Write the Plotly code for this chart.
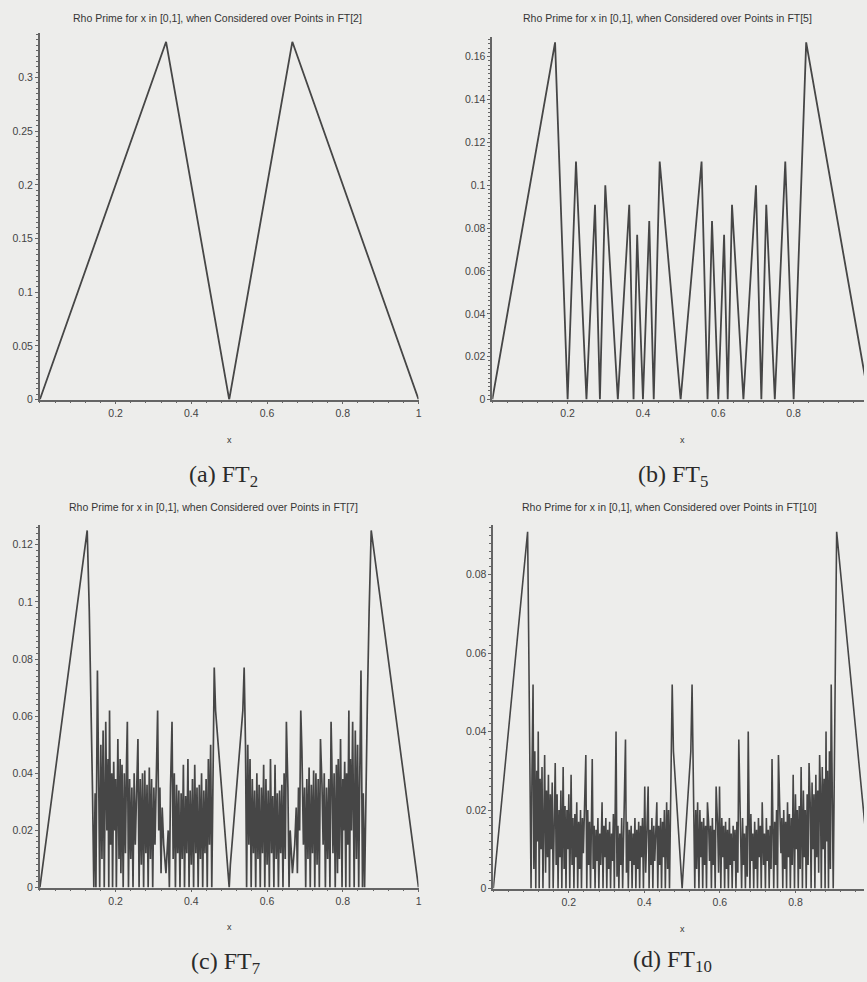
import plotly.graph_objects as go

W, H = 867, 982

# ---- FT[2] ----
a_x = [0.0, 0.3333, 0.5, 0.6667, 1.0]
a_y = [0.0, 0.3333, 0.0, 0.3333, 0.0]

# ---- FT[5] (left half, curve is symmetric about x = 1/2) ----
b_x = [0.0, 0.1667, 0.2, 0.2222, 0.25, 0.2727, 0.2857, 0.3, 0.3333, 0.3636,
       0.375, 0.3846, 0.4, 0.4167, 0.4286, 0.4444, 0.5]
b_y = [0.0, 0.1667, 0.0, 0.1111, 0.0, 0.0909, 0.0, 0.1, 0.0, 0.0909,
       0.0, 0.0769, 0.0, 0.0833, 0.0, 0.1111, 0.0]

# ---- FT[7] (left half) ----
c_x = [0.0, 0.125, 0.1305, 0.135, 0.139, 0.1425, 0.146, 0.148, 0.152, 0.156,
       0.158, 0.161, 0.164, 0.167, 0.170, 0.174, 0.177, 0.180, 0.182, 0.184,
       0.187, 0.190, 0.192, 0.195, 0.198, 0.200, 0.202, 0.206, 0.209, 0.212,
       0.214, 0.217, 0.220, 0.223, 0.226, 0.229, 0.231, 0.234, 0.237, 0.240,
       0.243, 0.246, 0.249, 0.252, 0.255, 0.259, 0.262, 0.265, 0.268, 0.271,
       0.274, 0.277, 0.280, 0.283, 0.286, 0.289, 0.292, 0.295, 0.298, 0.301,
       0.304, 0.308, 0.311, 0.314, 0.317, 0.320, 0.323, 0.327, 0.333, 0.339,
       0.342, 0.345, 0.349, 0.352, 0.355, 0.358, 0.361, 0.364, 0.367, 0.370,
       0.373, 0.376, 0.379, 0.382, 0.385, 0.388, 0.391, 0.394, 0.397, 0.400,
       0.403, 0.406, 0.409, 0.412, 0.415, 0.418, 0.421, 0.424, 0.427, 0.430,
       0.433, 0.436, 0.439, 0.442, 0.445, 0.448, 0.451, 0.454, 0.457, 0.4605,
       0.464, 0.497, 0.5]
c_y = [0.0, 0.125, 0.097, 0.066, 0.034, 0.0, 0.033, 0.0, 0.076, 0.03,
       0.0, 0.05, 0.01, 0.055, 0.0, 0.058, 0.02, 0.045, 0.0, 0.062,
       0.015, 0.04, 0.0, 0.044, 0.02, 0.038, 0.0, 0.052, 0.01, 0.045,
       0.005, 0.043, 0.0, 0.04, 0.012, 0.045, 0.058, 0.0, 0.038, 0.01,
       0.035, 0.0, 0.04, 0.015, 0.036, 0.052, 0.0, 0.038, 0.008, 0.04,
       0.0, 0.041, 0.012, 0.036, 0.0, 0.042, 0.01, 0.038, 0.0, 0.035,
       0.015, 0.048, 0.062, 0.02, 0.035, 0.005, 0.028, 0.015, 0.005, 0.02,
       0.0, 0.035, 0.058, 0.01, 0.04, 0.0, 0.036, 0.012, 0.034, 0.0,
       0.033, 0.01, 0.043, 0.0, 0.032, 0.012, 0.045, 0.0, 0.034, 0.008,
       0.038, 0.0, 0.043, 0.012, 0.035, 0.0, 0.036, 0.01, 0.04, 0.0,
       0.034, 0.012, 0.038, 0.0, 0.045, 0.015, 0.05, 0.0, 0.05, 0.077,
       0.062, 0.008, 0.0]

# ---- FT[10] (left half) ----
d_x = [0.0, 0.0909, 0.0935, 0.1, 0.1025, 0.1053, 0.1075, 0.11, 0.1125, 0.115,
       0.1175, 0.119, 0.1215, 0.124, 0.1265, 0.129, 0.1315, 0.134, 0.136, 0.1385,
       0.141, 0.1435, 0.146, 0.1485, 0.151, 0.1535, 0.156, 0.1585, 0.161, 0.164,
       0.1665, 0.169, 0.1715, 0.174, 0.1765, 0.179, 0.1815, 0.185, 0.1875, 0.19,
       0.1925, 0.195, 0.1975, 0.2, 0.2025, 0.206, 0.2085, 0.211, 0.2135, 0.216,
       0.2185, 0.221, 0.2235, 0.226, 0.2285, 0.231, 0.2335, 0.236, 0.2385, 0.241,
       0.245, 0.2475, 0.25, 0.2525, 0.255, 0.2575, 0.262, 0.2645, 0.267, 0.2695,
       0.272, 0.2745, 0.277, 0.2795, 0.282, 0.2845, 0.288, 0.2905, 0.293, 0.2955,
       0.298, 0.3005, 0.303, 0.3055, 0.308, 0.3105, 0.313, 0.3155, 0.318, 0.3205,
       0.325, 0.3275, 0.33, 0.3325, 0.335, 0.3375, 0.34, 0.3425, 0.345, 0.35,
       0.3525, 0.355, 0.3575, 0.36, 0.3625, 0.365, 0.3675, 0.37, 0.3725, 0.375,
       0.3775, 0.38, 0.3825, 0.385, 0.3875, 0.39, 0.3925, 0.395, 0.3975, 0.401,
       0.4035, 0.406, 0.41, 0.4125, 0.415, 0.4175, 0.42, 0.4225, 0.425, 0.4275,
       0.43, 0.433, 0.4355, 0.438, 0.4405, 0.443, 0.4455, 0.448, 0.4505, 0.453,
       0.4555, 0.459, 0.4615, 0.464, 0.4665, 0.469, 0.4725, 0.4737, 0.477, 0.497,
       0.5]
d_y = [0.0, 0.0909, 0.066, 0.0, 0.03, 0.052, 0.005, 0.035, 0.0, 0.03,
       0.012, 0.04, 0.0, 0.028, 0.01, 0.031, 0.0, 0.026, 0.034, 0.004,
       0.025, 0.008, 0.029, 0.0, 0.024, 0.01, 0.027, 0.0, 0.022, 0.032,
       0.006, 0.024, 0.0, 0.02, 0.008, 0.025, 0.0, 0.031, 0.005, 0.021,
       0.0, 0.02, 0.01, 0.024, 0.0, 0.029, 0.006, 0.018, 0.0, 0.019,
       0.008, 0.022, 0.0, 0.017, 0.005, 0.02, 0.0, 0.018, 0.009, 0.021,
       0.034, 0.0, 0.02, 0.006, 0.017, 0.0, 0.033, 0.005, 0.016, 0.0,
       0.015, 0.007, 0.018, 0.0, 0.014, 0.006, 0.022, 0.0, 0.016, 0.008,
       0.018, 0.0, 0.015, 0.005, 0.017, 0.0, 0.014, 0.007, 0.019, 0.0,
       0.04, 0.003, 0.016, 0.0, 0.014, 0.006, 0.018, 0.0, 0.015, 0.038,
       0.004, 0.017, 0.0, 0.015, 0.007, 0.016, 0.0, 0.014, 0.006, 0.018,
       0.0, 0.015, 0.005, 0.017, 0.0, 0.016, 0.008, 0.018, 0.0, 0.026,
       0.004, 0.016, 0.026, 0.0, 0.015, 0.006, 0.018, 0.0, 0.016, 0.007,
       0.017, 0.022, 0.0, 0.016, 0.006, 0.018, 0.0, 0.017, 0.008, 0.02,
       0.0, 0.022, 0.005, 0.02, 0.0, 0.024, 0.045, 0.052, 0.035, 0.005,
       0.0]

titles = ["Rho Prime for x in [0,1], when Considered over Points in FT[2]",
          "Rho Prime for x in [0,1], when Considered over Points in FT[5]",
          "Rho Prime for x in [0,1], when Considered over Points in FT[7]",
          "Rho Prime for x in [0,1], when Considered over Points in FT[10]"]
captions = ["(a) FT<sub>2</sub>", "(b) FT<sub>5</sub>",
            "(c) FT<sub>7</sub>", "(d) FT<sub>10</sub>"]
x_ticks = [0.2, 0.4, 0.6, 0.8, 1]


def mirror(xs, ys):
    """Extend a half curve on [0, 1/2] to [0, 1] by reflection about x = 1/2."""
    rx = [1 - v for v in reversed(xs[:-1])]
    ry = list(reversed(ys[:-1]))
    return xs + rx, ys + ry


def fx(p):
    return p / W


def fy(p):
    return 1 - p / H


BG = "#ededeb"
LINE = "#464646"
AX = "#656565"
TICKFONT = dict(family="Liberation Sans, Arial, sans-serif", size=10.5, color="#444444")

# panel geometry in pixels: x0, x1 of plot area, range end, y bottom, y top, y range top, dtick
panels = [
    dict(x0=40, x1=420, xr=1.0, yb=402, yt=33, yr=0.3417, dt=0.05, lw=1.8),
    dict(x0=494, x1=867, xr=0.9868, yb=402, yt=37, yr=0.1693, dt=0.02, lw=1.8),
    dict(x0=40, x1=420, xr=1.0, yb=893, yt=528, yr=0.127, dt=0.02, lw=1.7),
    dict(x0=495, x1=867, xr=0.9815, yb=894, yt=528, yr=0.0927, dt=0.02, lw=1.6),
]

series = [
    (a_x, a_y),
    mirror(b_x, b_y),
    mirror(c_x, c_y),
    mirror(d_x, d_y),
]

fig = go.Figure()
layout = dict(
    width=W, height=H, margin=dict(l=0, r=0, t=0, b=0),
    paper_bgcolor=BG, plot_bgcolor=BG, showlegend=False,
)

for i, (p, (xs, ys)) in enumerate(zip(panels, series)):
    n = "" if i == 0 else str(i + 1)
    fig.add_trace(go.Scatter(
        x=xs, y=ys, mode="lines", xaxis="x" + n, yaxis="y" + n,
        line=dict(color=LINE, width=p["lw"]), hoverinfo="skip",
    ))
    layout["xaxis" + n] = dict(
        domain=[fx(p["x0"]), fx(p["x1"])], range=[0, p["xr"]], anchor="y" + n,
        showgrid=False, zeroline=False, showline=True, linecolor=AX, linewidth=1.6,
        tickvals=x_ticks, ticktext=["0.2", "0.4", "0.6", "0.8", "1"],
        ticks="outside", ticklen=3, tickcolor=AX, tickfont=TICKFONT,
        minor=dict(dtick=0.04, ticks="outside", ticklen=2, tickcolor=AX, showgrid=False),
    )
    layout["yaxis" + n] = dict(
        domain=[fy(p["yb"]), fy(p["yt"])], range=[0, p["yr"]], anchor="x" + n,
        showgrid=False, zeroline=False, showline=True, linecolor=AX, linewidth=1.6,
        dtick=p["dt"], ticks="outside", ticklen=3, tickcolor=AX, tickfont=TICKFONT,
        minor=dict(dtick=p["dt"] / 10, ticks="outside", ticklen=2, tickcolor=AX, showgrid=False),
    )

fig.update_layout(**layout)

# titles, axis names and captions
title_pos = [(218, 18), (670, 18), (214, 510), (672, 510)]
xlab_pos = [(230, 443), (685, 443), (230, 933), (685, 935)]
cap_pos = [(224, 479), (675, 479), (226, 969), (675, 967)]

for t, (tx, ty) in zip(titles, title_pos):
    fig.add_annotation(x=fx(tx), y=fy(ty), xref="paper", yref="paper", text=t,
                       showarrow=False, xanchor="center", yanchor="middle",
                       font=dict(family="Liberation Sans, Arial, sans-serif", size=10.5, color="#353535"))
for (tx, ty) in xlab_pos:
    fig.add_annotation(x=fx(tx), y=fy(ty), xref="paper", yref="paper", text="x",
                       showarrow=False, xanchor="center", yanchor="middle",
                       font=dict(family="Liberation Sans, Arial, sans-serif", size=9, color="#353535"))
for c, (tx, ty) in zip(captions, cap_pos):
    fig.add_annotation(x=fx(tx), y=fy(ty), xref="paper", yref="paper", text=c,
                       showarrow=False, xanchor="center", yanchor="middle",
                       font=dict(family="Liberation Serif, DejaVu Serif, serif", size=24, color="#2a2a2a"))

fig.write_html("out.html")
